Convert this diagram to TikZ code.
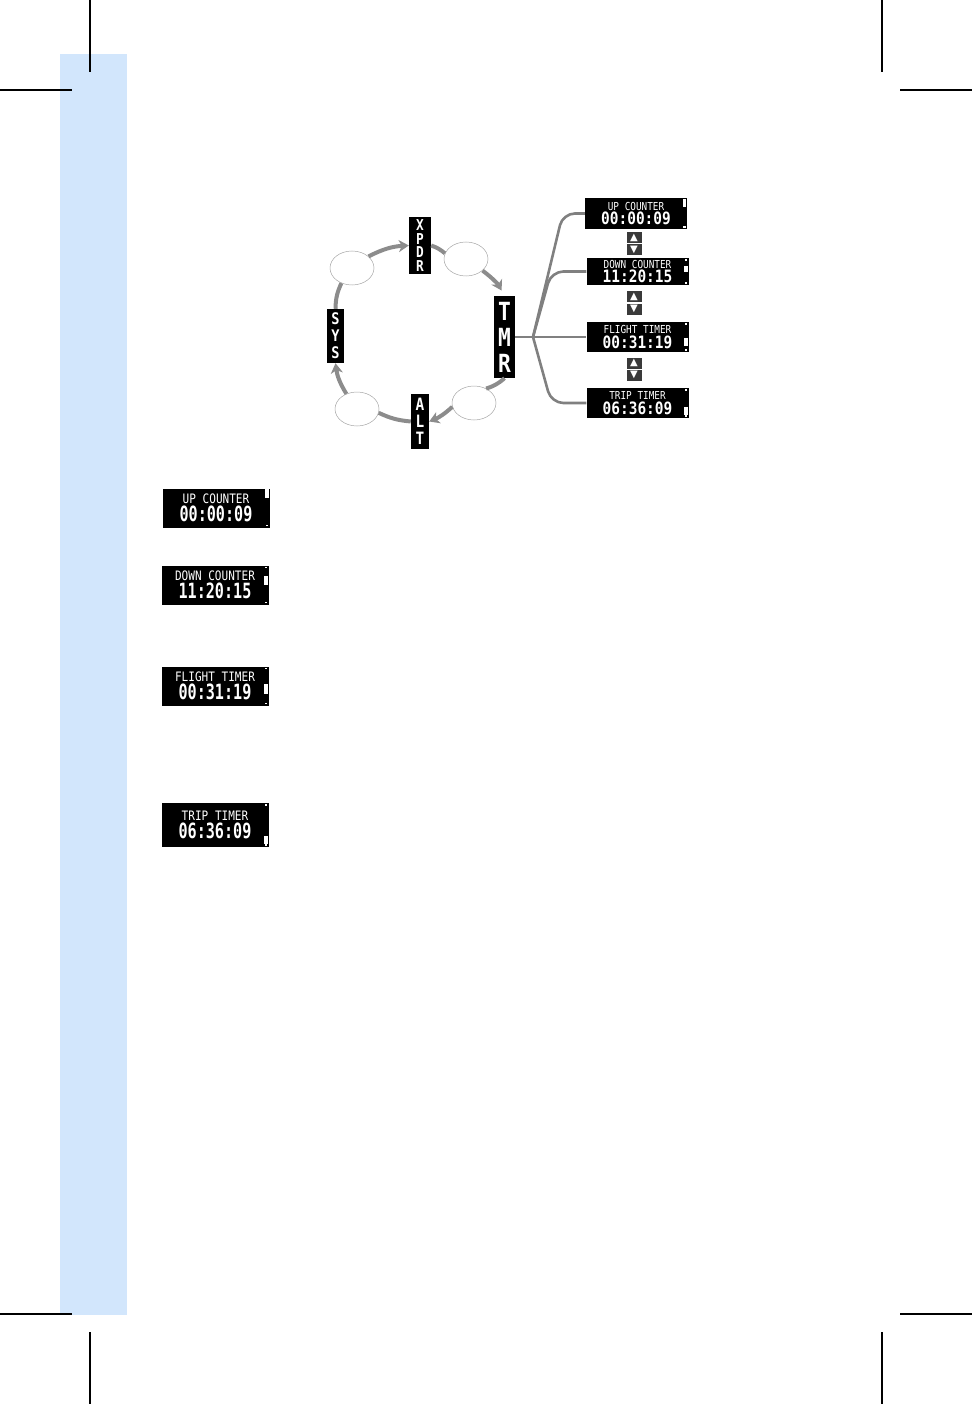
\documentclass[tikz,border=0pt]{standalone}
\usepackage{fontspec}
\setmainfont{DejaVu Sans}
\newfontfamily\lcdfont[FakeStretch=0.85]{DejaVu Sans Mono}
\newfontfamily\lcdnarrow[FakeStretch=0.72]{DejaVu Sans Mono}
\usetikzlibrary{arrows.meta,positioning,shapes.geometric,calc}

\definecolor{bandblue}{HTML}{D2E6FC}
\definecolor{ringgray}{HTML}{8C8C8C}
\definecolor{treegray}{HTML}{808080}
\definecolor{btngray}{HTML}{3A3A3A}

\newcommand\rtitle{\lcdfont\fontsize{11}{11}\selectfont}
\newcommand\rtime{\lcdfont\bfseries\fontsize{17}{15}\selectfont}
\newcommand\ltitle{\lcdfont\fontsize{13}{13}\selectfont}
\newcommand\ltime{\lcdnarrow\bfseries\fontsize{21}{19}\selectfont}

% scroll marks on the right edge of a readout: panel, bar offset, bar length
\newcommand\scrollmark[3]{%
  \fill[white] ($(#1.north east)+(-4,-1.5)$) rectangle ++(2.5,-1.5);
  \fill[white] ($(#1.south east)+(-4,1.5)$) rectangle ++(2.5,1.5);
  \fill[white] ($(#1.north east)+(-4.5,-#2)$) rectangle ++(3.5,-#3);
}

\tikzset{
  ring/.style={draw=ringgray,line width=4pt},
  ringarrow/.style={ring,-{Stealth[length=10pt,width=12pt,inset=3pt]}},
  blank/.style={ellipse,draw=gray!70,line width=0.5pt,fill=white,minimum width=44pt,minimum height=34pt,inner sep=0pt},
  mode/.style={fill=black,text=white,inner sep=0pt,align=center},
  branch/.style={draw=treegray,line width=2.6pt,rounded corners=12pt},
  rpanel/.style={fill=black,text=white,inner sep=0pt,align=center,minimum width=102pt,minimum height=30pt},
  lpanel/.style={fill=black,text=white,inner sep=0pt,align=center,minimum width=107pt,minimum height=39pt},
  btn/.style={fill=btngray,text=white,inner sep=0pt,minimum width=15pt,minimum height=11pt,font=\fontsize{10}{10}\selectfont},
  crop/.style={line width=1.2pt}
}

\begin{document}
\begin{tikzpicture}[x=1pt,y=1pt]
\useasboundingbox (0,0) rectangle (972,-1404);
\fill[bandblue] (60,-54) rectangle (127,-1315);

% crop marks
\draw[crop] (90,0) -- (90,-72);
\draw[crop] (0,-90) -- (72,-90);
\draw[crop] (882,0) -- (882,-72);
\draw[crop] (900,-90) -- (972,-90);
\draw[crop] (0,-1314) -- (72,-1314);
\draw[crop] (90,-1332) -- (90,-1404);
\draw[crop] (900,-1314) -- (972,-1314);
\draw[crop] (882,-1332) -- (882,-1404);

% mode ring
\node[mode,minimum width=22pt,minimum height=57pt,font=\lcdfont\bfseries\fontsize{15}{13.5}\selectfont] (xpdr) at (420,-245.5) {X\\P\\D\\R};
\node[mode,minimum width=21pt,minimum height=82pt,font=\lcdfont\bfseries\fontsize{25}{26}\selectfont] (tmr) at (504.5,-337) {T\\M\\R};
\node[mode,minimum width=18pt,minimum height=55pt,font=\lcdfont\bfseries\fontsize{17}{17}\selectfont] (alt) at (420,-421.5) {A\\L\\T};
\node[mode,minimum width=17pt,minimum height=54pt,font=\lcdfont\bfseries\fontsize{16}{17}\selectfont] (sys) at (335.5,-336) {S\\Y\\S};
\node[blank] (ul) at (352,-268) {};
\node[blank] (ur) at (466,-259) {};
\node[blank] (ll) at (357,-409) {};
\node[blank] (lr) at (474,-403) {};
\draw[ringarrow] (ul.35) to[bend left=12] (xpdr.west);
\draw[ring] (xpdr.east) to[bend left=10] (ur.165);
\draw[ringarrow,shorten >=6pt] (ur.-35) to[bend left=12] (tmr.north);
\draw[ring] (tmr.south) to[bend left=12] (lr.50);
\draw[ringarrow] (lr.190) to[bend left=10] (alt.east);
\draw[ring] (alt.west) to[bend left=10] (ll.-10);
\draw[ringarrow] (ll.125) to[bend left=12] (sys.south);
\draw[ring] (sys.north) to[bend left=12] (ul.235);

% timer pages
\node[rpanel,minimum height=31pt] (up) at (636,-213.5) {\rtitle UP COUNTER\\[1pt]\rtime 00:00:09};
\node[rpanel,minimum height=27pt] (down) at (637.5,-271.5) {\rtitle DOWN COUNTER\\[1pt]\rtime 11:20:15};
\node[rpanel] (flight) at (637.5,-337) {\rtitle FLIGHT TIMER\\[1pt]\rtime 00:31:19};
\node[rpanel] (trip) at (637.5,-403) {\rtitle TRIP TIMER\\[1pt]\rtime 06:36:09};
\scrollmark{up}{1}{8}
\scrollmark{down}{8}{6}
\scrollmark{flight}{16}{8}
\scrollmark{trip}{19}{8}

\node[btn] (u1) at (634,-237.5) {▲};
\node[btn,below=1pt of u1] (d1) {▼};
\node[btn] (u2) at (634,-297) {▲};
\node[btn,below=1pt of u2] (d2) {▼};
\node[btn] (u3) at (634,-363) {▲};
\node[btn,below=1pt of u3] (d3) {▼};

\coordinate (fork) at (533,-337);
\draw[branch] (tmr.east) -- (flight.west);
\draw[branch] (fork) -- ([xshift=-22pt]up.west) -- (up.west);
\draw[branch] (fork) -- ([xshift=-35pt]down.west) -- (down.west);
\draw[branch] (fork) -- ([xshift=-35pt]trip.west) -- (trip.west);

% readouts in the text column
\node[lpanel] (lup) at (216,-508) {\ltitle UP COUNTER\\[1pt]\ltime 00:00:09};
\node[lpanel] (ldown) at (215,-585) {\ltitle DOWN COUNTER\\[1pt]\ltime 11:20:15};
\node[lpanel] (lflight) at (215,-686) {\ltitle FLIGHT TIMER\\[1pt]\ltime 00:31:19};
\node[lpanel,minimum height=44pt] (ltrip) at (215,-825) {\ltitle TRIP TIMER\\[1pt]\ltime 06:36:09};
\scrollmark{lup}{1}{9}
\scrollmark{ldown}{11}{9}
\scrollmark{lflight}{18}{10}
\scrollmark{ltrip}{33}{8}
\end{tikzpicture}
\end{document}
